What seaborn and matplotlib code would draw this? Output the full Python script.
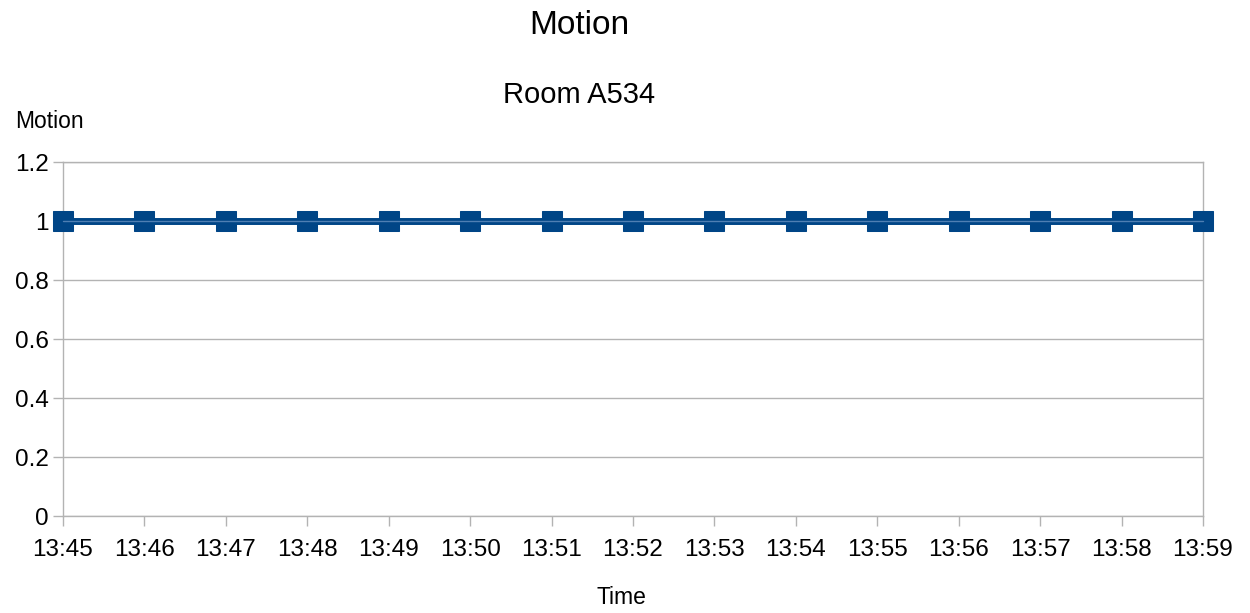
import matplotlib.pyplot as plt
import pandas as pd
import seaborn as sns

times = ["13:45", "13:46", "13:47", "13:48", "13:49", "13:50", "13:51", "13:52",
         "13:53", "13:54", "13:55", "13:56", "13:57", "13:58", "13:59"]
motion = [1, 1, 1, 1, 1, 1, 1, 1, 1, 1, 1, 1, 1, 1, 1]

sns.set_style("white")
plt.rcParams['font.family'] = ['Liberation Sans', 'DejaVu Sans']
plt.rcParams['text.color'] = 'black'
plt.rcParams['xtick.labelcolor'] = 'black'
plt.rcParams['ytick.labelcolor'] = 'black'

df = pd.DataFrame({'pos': range(len(times)), 'motion': motion})

fig = plt.figure(figsize=(12.5, 6.13), dpi=100)
ax = fig.add_axes([0.0504, 0.1582, 0.912, 0.5775])

line_color = '#004586'
sns.lineplot(data=df, x='pos', y='motion', ax=ax, color=line_color, linewidth=5,
             marker='s', markersize=14, markeredgecolor=line_color, zorder=3, clip_on=False)
# lighter inner stroke of the double line
sns.lineplot(data=df, x='pos', y='motion', ax=ax, color='#4f7fb3', linewidth=1,
             zorder=4, clip_on=False)

ax.set_xlim(0, len(times) - 1)
ax.set_ylim(0, 1.2)
ax.set_xticks(range(len(times)))
ax.set_xticklabels(times)
ax.set_yticks([0, 0.2, 0.4, 0.6, 0.8, 1, 1.2])
ax.set_yticklabels(['0', '0.2', '0.4', '0.6', '0.8', '1', '1.2'])
ax.yaxis.grid(True, color='#b3b3b3', linewidth=1)
ax.set_axisbelow(True)
for side in ['left', 'bottom', 'right', 'top']:
    ax.spines[side].set_color('#b3b3b3')
    ax.spines[side].set_linewidth(1)
ax.tick_params(axis='both', which='major', length=7.5, width=1, color='#b3b3b3',
               labelsize=17.5, direction='out', left=True, bottom=True)
ax.tick_params(axis='y', pad=3)
ax.tick_params(axis='x', pad=9)

ax.set_xlabel('')
ax.set_ylabel('')
fig.text(0.4968, 1 - 598 / 613, 'Time', fontsize=16.5, ha='center', va='center')
fig.text(0.012, 1 - 122 / 613, 'Motion', fontsize=16.5, ha='left', va='center')

fig.text(0.4632, 1 - 25 / 613, 'Motion', fontsize=24, ha='center', va='center')
fig.text(0.4632, 1 - 95 / 613, 'Room A534', fontsize=21, ha='center', va='center')

fig.savefig('out.png', dpi=100)
